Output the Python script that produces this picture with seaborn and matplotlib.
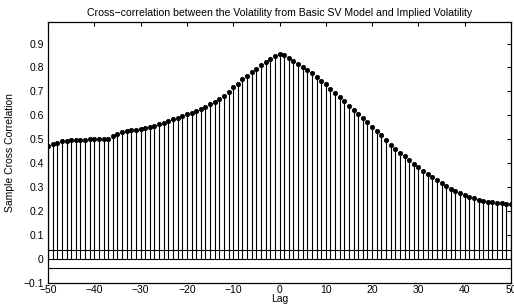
import numpy as np
import pandas as pd
import matplotlib
matplotlib.use("Agg")
import matplotlib.pyplot as plt
import seaborn as sns

# Sample cross-correlation, lags -50..50
lags = list(range(-50, 51))
xcf_neg = [0.472, 0.479, 0.486, 0.491, 0.495, 0.497, 0.498, 0.499, 0.499, 0.500,
           0.500, 0.500, 0.500, 0.501, 0.512, 0.524, 0.531, 0.534, 0.537, 0.540,
           0.544, 0.548, 0.552, 0.556, 0.562, 0.570, 0.576, 0.583, 0.589, 0.597,
           0.604, 0.611, 0.618, 0.628, 0.637, 0.647, 0.657, 0.669, 0.683, 0.699,
           0.717, 0.733, 0.750, 0.764, 0.781, 0.794, 0.810, 0.822, 0.836, 0.847]
xcf_zero = [0.856]
xcf_pos = [0.851, 0.840, 0.828, 0.815, 0.803, 0.789, 0.775, 0.760, 0.745, 0.729,
           0.711, 0.694, 0.676, 0.658, 0.640, 0.622, 0.606, 0.589, 0.572, 0.553,
           0.536, 0.518, 0.499, 0.478, 0.461, 0.444, 0.429, 0.412, 0.397, 0.383,
           0.369, 0.356, 0.342, 0.330, 0.318, 0.306, 0.294, 0.283, 0.275, 0.267,
           0.258, 0.253, 0.247, 0.243, 0.240, 0.237, 0.235, 0.233, 0.232, 0.230]
xcf = xcf_neg + xcf_zero + xcf_pos
bound = 0.037  # approx. 95% confidence bound

xticks = list(range(-50, 51, 10))
yticks = [-0.1, 0, 0.1, 0.2, 0.3, 0.4, 0.5, 0.6, 0.7, 0.8, 0.9]
yticklabels = ["\u22120.1", "0", "0.1", "0.2", "0.3", "0.4", "0.5", "0.6", "0.7", "0.8", "0.9"]
xticklabels = [str(t).replace("-", "\u2212") for t in xticks]

df = pd.DataFrame({"Lag": lags, "XCF": xcf})

sns.set_style("white")
plt.rcParams["font.family"] = ["Liberation Sans", "DejaVu Sans"]
plt.rcParams.update({"text.color": "black", "axes.labelcolor": "black",
                     "xtick.color": "black", "ytick.color": "black"})

fig = plt.figure(figsize=(5.14, 3.05), dpi=100)
ax = fig.add_axes([48 / 514, 1 - 283 / 305, 463 / 514, 261 / 305])

# stems
ax.vlines(df["Lag"], 0, df["XCF"], color="black", lw=0.8)
sns.scatterplot(data=df, x="Lag", y="XCF", color="black", s=10,
                edgecolor="black", linewidth=0.5, ax=ax, zorder=3)

# baseline and confidence bounds
ax.axhline(0, color="black", lw=0.8)
ax.axhline(bound, color="black", lw=0.8)
ax.axhline(-bound, color="black", lw=0.8)

ax.set_xlim(-50, 50)
ax.set_ylim(-0.1, 0.99)
ax.set_xticks(xticks)
ax.set_xticklabels(xticklabels)
ax.set_yticks(yticks)
ax.set_yticklabels(yticklabels)
ax.tick_params(direction="in", length=3, width=0.8, labelsize=7.5,
               top=True, right=True)
ax.tick_params(axis="x", pad=1.5)
ax.tick_params(axis="y", pad=3)
for s in ax.spines.values():
    s.set_color("black")
    s.set_linewidth(0.9)

ax.set_xlabel("Lag", fontsize=7.5, labelpad=-1)
ax.set_ylabel("Sample Cross Correlation", fontsize=7.5, labelpad=6)
ax.set_title("Cross\u2212correlation between the Volatility from Basic SV Model and Implied Volatility",
             fontsize=7.6, pad=4)

fig.savefig("out.png", dpi=100)
